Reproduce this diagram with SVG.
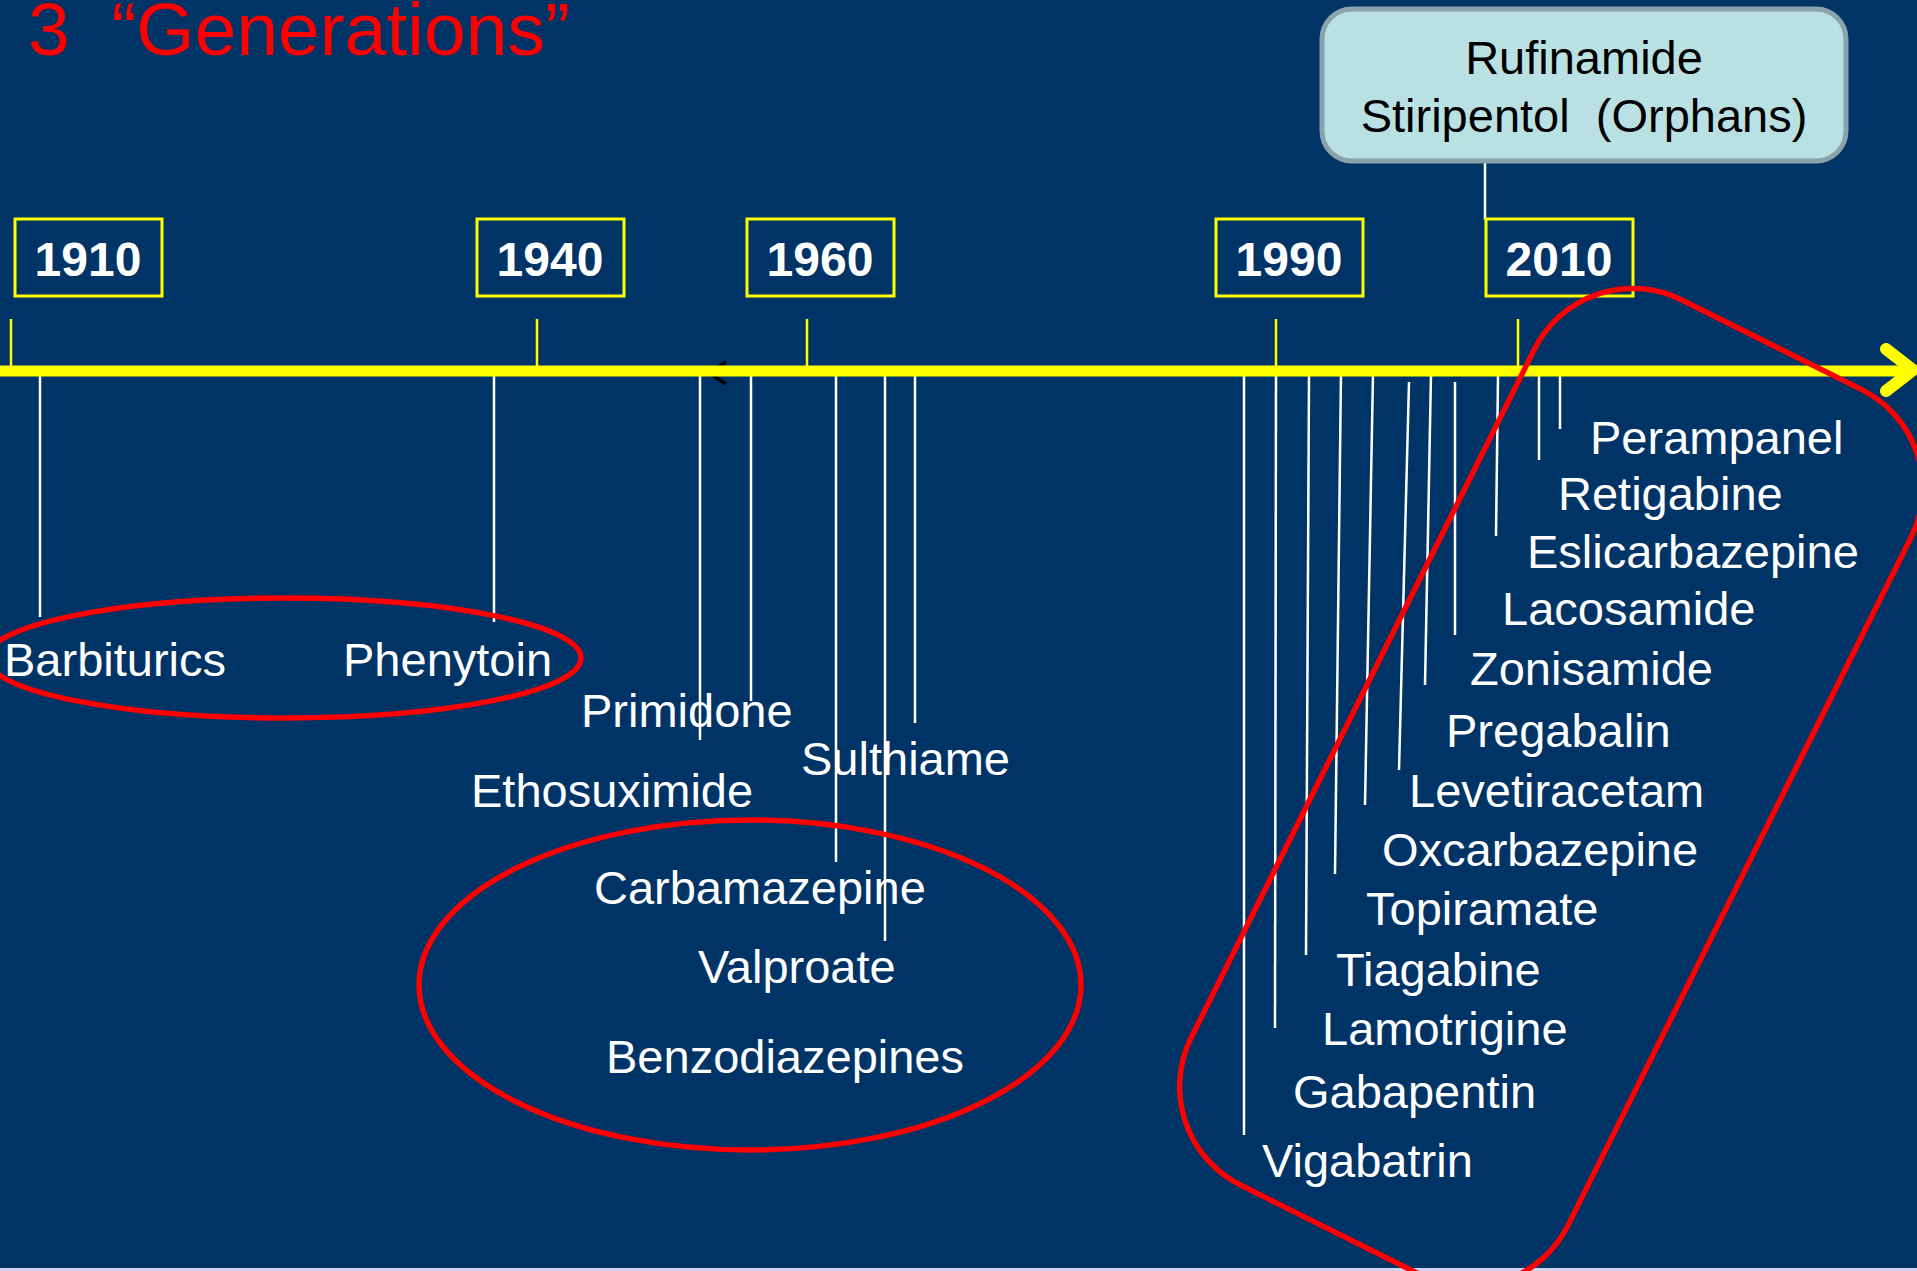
<svg xmlns="http://www.w3.org/2000/svg" width="1917" height="1271" viewBox="0 0 1917 1271">
<style>
.bg{fill:#003366}
.title{font-family:"Liberation Sans",Arial,sans-serif;font-size:75px;fill:#ff0000}
.year rect{fill:none;stroke:#ffff00;stroke-width:3}
.year text{font-family:"Liberation Sans",Arial,sans-serif;font-size:48px;font-weight:bold;fill:#ffffff;text-anchor:middle}
.drug{font-family:"Liberation Sans",Arial,sans-serif;font-size:47px;fill:#ffffff}
.drop{stroke:#ffffff;stroke-width:2.5;fill:none}
.tick{stroke:#ffff00;stroke-width:2.5;fill:none}
.ring{fill:none;stroke:#ff0000;stroke-width:5.5}
.callout rect{fill:#b9e0e3;stroke:#8aa2aa;stroke-width:5}
.callout text{font-family:"Liberation Sans",Arial,sans-serif;font-size:47px;fill:#000000;text-anchor:middle}
</style>
<rect class="bg" x="0" y="0" width="1917" height="1271"/>
<rect x="0" y="1268" width="1917" height="3" fill="#d0d4ec"/>

<text id="title" class="title" x="28" y="55" xml:space="preserve">3  “Generations”</text>

<g id="connectors">
  <line class="tick" x1="11" y1="319" x2="11" y2="370"/>
  <line class="tick" x1="537" y1="319" x2="537" y2="370"/>
  <line class="tick" x1="807" y1="319" x2="807" y2="370"/>
  <line class="tick" x1="1276" y1="319" x2="1276" y2="370"/>
  <line class="tick" x1="1518" y1="319" x2="1518" y2="370"/>
  <line class="drop" x1="1485" y1="163" x2="1485" y2="220"/>
  <line class="drop" x1="40" y1="372" x2="40" y2="617"/>
  <line class="drop" x1="494" y1="372" x2="494" y2="622"/>
  <line class="drop" x1="700" y1="372" x2="700" y2="740"/>
  <line class="drop" x1="751" y1="372" x2="751" y2="701"/>
  <line class="drop" x1="836" y1="372" x2="836" y2="862"/>
  <line class="drop" x1="885" y1="372" x2="885" y2="941"/>
  <line class="drop" x1="915" y1="372" x2="915" y2="723"/>
  <line class="drop" x1="1244" y1="372" x2="1244" y2="1135"/>
  <line class="drop" x1="1276" y1="372" x2="1275" y2="1028"/>
  <line class="drop" x1="1309" y1="375" x2="1306" y2="955"/>
  <line class="drop" x1="1341" y1="372" x2="1335" y2="874"/>
  <line class="drop" x1="1373" y1="373" x2="1365" y2="805"/>
  <line class="drop" x1="1409" y1="382" x2="1399" y2="770"/>
  <line class="drop" x1="1431" y1="374" x2="1425" y2="685"/>
  <line class="drop" x1="1455" y1="382" x2="1455" y2="635"/>
  <line class="drop" x1="1498" y1="376" x2="1496" y2="536"/>
  <line class="drop" x1="1539" y1="371" x2="1539" y2="460"/>
  <line class="drop" x1="1560" y1="371" x2="1560" y2="429"/>
  <polyline points="726,362 709,373 726,384" fill="none" stroke="#000000" stroke-width="3.5"/>
  <line x1="0" y1="371" x2="1910" y2="371" stroke="#ffff00" stroke-width="11"/>
  <polyline points="1886,349 1913,370 1886,391" fill="none" stroke="#ffff00" stroke-width="12" stroke-linecap="round" stroke-linejoin="round"/>
</g>

<g id="year-1910" class="year"><rect x="15" y="219" width="147" height="77"/><text x="88" y="276">1910</text></g>
<g id="year-1940" class="year"><rect x="477" y="219" width="147" height="77"/><text x="550" y="276">1940</text></g>
<g id="year-1960" class="year"><rect x="747" y="219" width="147" height="77"/><text x="820" y="276">1960</text></g>
<g id="year-1990" class="year"><rect x="1216" y="219" width="147" height="77"/><text x="1289" y="276">1990</text></g>
<g id="year-2010" class="year"><rect x="1486" y="219" width="147" height="77"/><text x="1559" y="276">2010</text></g>

<g id="orphans" class="callout">
  <rect x="1322" y="9" width="524" height="152" rx="30"/>
  <text x="1584" y="74">Rufinamide</text>
  <text x="1584" y="132" xml:space="preserve">Stiripentol  (Orphans)</text>
</g>

<g id="gen1">
  <ellipse class="ring" cx="284" cy="658" rx="297" ry="60"/>
  <text id="barbiturics" class="drug" x="4" y="676">Barbiturics</text>
  <text id="phenytoin" class="drug" x="343" y="676">Phenytoin</text>
</g>

<g id="gen2-others">
  <text id="primidone" class="drug" x="581" y="727">Primidone</text>
  <text id="sulthiame" class="drug" x="801" y="775">Sulthiame</text>
  <text id="ethosuximide" class="drug" x="471" y="807">Ethosuximide</text>
</g>

<g id="gen2">
  <ellipse class="ring" cx="750" cy="985" rx="331" ry="165"/>
  <text id="carbamazepine" class="drug" x="594" y="904">Carbamazepine</text>
  <text id="valproate" class="drug" x="698" y="983">Valproate</text>
  <text id="benzodiazepines" class="drug" x="606" y="1073">Benzodiazepines</text>
</g>

<g id="gen3">
  <rect class="ring" x="1529" y="-482" width="421" height="989" rx="110" transform="rotate(26.5)"/>
  <text id="perampanel" class="drug" x="1590" y="454">Perampanel</text>
  <text id="retigabine" class="drug" x="1558" y="510">Retigabine</text>
  <text id="eslicarbazepine" class="drug" x="1527" y="568">Eslicarbazepine</text>
  <text id="lacosamide" class="drug" x="1502" y="625">Lacosamide</text>
  <text id="zonisamide" class="drug" x="1470" y="685">Zonisamide</text>
  <text id="pregabalin" class="drug" x="1446" y="747">Pregabalin</text>
  <text id="levetiracetam" class="drug" x="1409" y="807">Levetiracetam</text>
  <text id="oxcarbazepine" class="drug" x="1382" y="866">Oxcarbazepine</text>
  <text id="topiramate" class="drug" x="1366" y="925">Topiramate</text>
  <text id="tiagabine" class="drug" x="1336" y="986">Tiagabine</text>
  <text id="lamotrigine" class="drug" x="1322" y="1045">Lamotrigine</text>
  <text id="gabapentin" class="drug" x="1293" y="1108">Gabapentin</text>
  <text id="vigabatrin" class="drug" x="1262" y="1177">Vigabatrin</text>
</g>
</svg>
